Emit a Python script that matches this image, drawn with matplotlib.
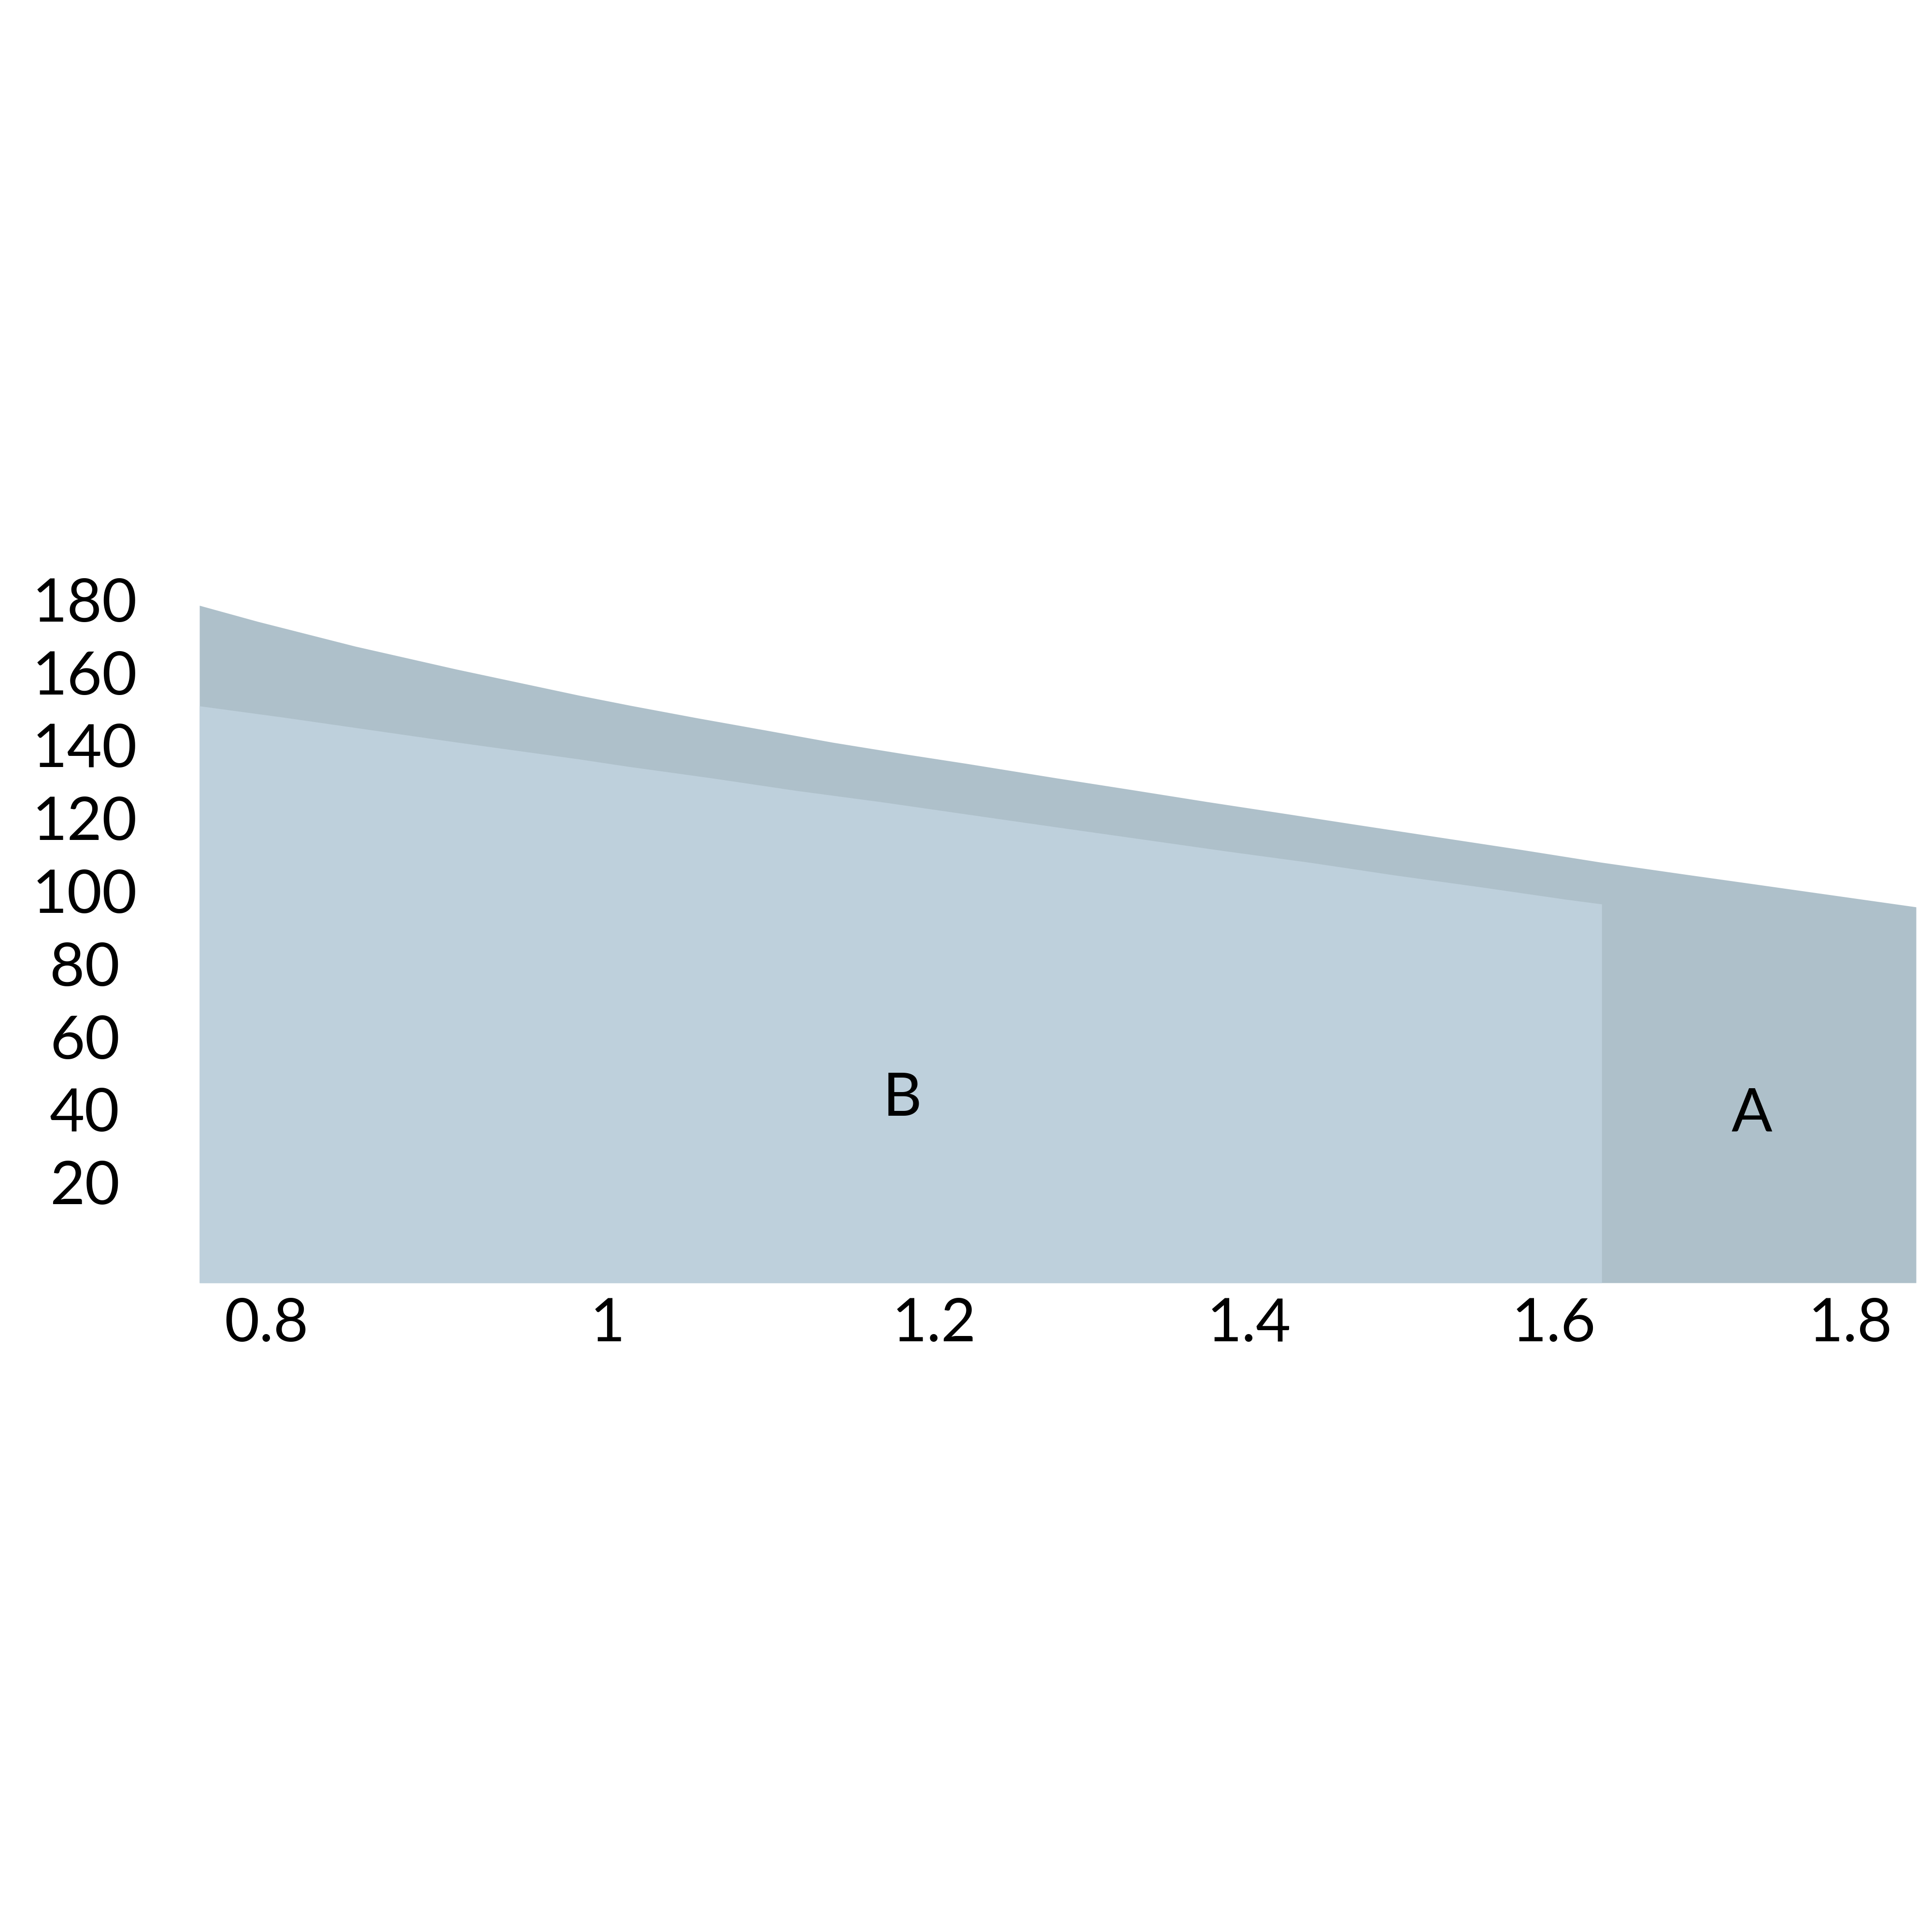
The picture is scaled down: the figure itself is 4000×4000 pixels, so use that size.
import numpy as np
import matplotlib
matplotlib.use("Agg")
import matplotlib.pyplot as plt
from matplotlib.transforms import ScaledTranslation

plt.rcParams['font.family'] = ['Lato', 'DejaVu Sans']

# series A (full width, darker)
a_x = [0.762, 0.795, 0.851, 0.910, 0.983, 1.014, 1.054, 1.095, 1.137, 1.183, 1.220,
       1.277, 1.326, 1.373, 1.424, 1.467, 1.525, 1.579, 1.631, 1.689, 1.724, 1.845]
a_y = [186.0, 181.6, 174.8, 168.5, 161.3, 158.5, 155.1, 151.8, 148.4, 145.1, 142.6,
       138.6, 135.3, 132.1, 128.8, 126.0, 122.3, 118.9, 115.5, 112.1, 110.1, 103.2]

# series B (ends before A, lighter)
b_x = [0.762, 0.811, 0.911, 0.983, 1.012, 1.063, 1.114, 1.168, 1.220, 1.276, 1.330,
       1.386, 1.440, 1.467, 1.494, 1.553, 1.608, 1.632]
b_y = [158.4, 155.2, 148.4, 143.8, 141.8, 138.6, 135.2, 132.0, 128.7, 125.2, 121.9,
       118.5, 115.4, 113.7, 112.0, 108.6, 105.3, 104.0]

x_ticks = [0.8, 1.0, 1.2, 1.4, 1.6, 1.8]
x_labels = ['0.8', '1', '1.2', '1.4', '1.6', '1.8']
y_ticks = [20, 40, 60, 80, 100, 120, 140, 160, 180]
y_labels = [str(v) for v in y_ticks]

color_a = '#AEC0CA'
color_b = '#BED0DC'

# x axis is a power scale
k = 0.78


def fwd(x):
    return np.power(np.clip(x, 1e-9, None), k)


def inv(u):
    return np.power(np.clip(u, 1e-9, None), 1.0 / k)


fig = plt.figure(figsize=(40, 40), dpi=100)
ax = fig.add_axes([0.10325, 0.336, 0.8885, 0.377])
ax.set_xscale('function', functions=(fwd, inv))

ax.fill_between(a_x, 0, a_y, color=color_a, linewidth=0)
ax.fill_between(b_x, 0, b_y, color=color_b, linewidth=0)

ax.text(1.180, 45.9, 'B', fontsize=90, ha='center', va='baseline')
ax.text(1.733, 41.7, 'A', fontsize=90, ha='center', va='baseline')

ax.set_xlim(0.762, 1.845)
ax.set_ylim(0, 200)

ax.set_xticks(x_ticks)
ax.set_xticklabels(x_labels)
ax.set_yticks(y_ticks)
ax.set_yticklabels(y_labels)
ax.minorticks_off()
ax.tick_params(axis='x', length=0, pad=87, labelsize=90)
ax.tick_params(axis='y', length=0, pad=171, labelsize=90)
for lbl in ax.get_xticklabels():
    lbl.set_verticalalignment('baseline')
# y labels sit a little above their value
shift = ScaledTranslation(0, 0.12, fig.dpi_scale_trans)
for lbl in ax.get_yticklabels():
    lbl.set_horizontalalignment('center')
    lbl.set_verticalalignment('baseline')
    lbl.set_transform(lbl.get_transform() + shift)

for s in ax.spines.values():
    s.set_visible(False)

fig.savefig('out.png', dpi=100, facecolor='white')
